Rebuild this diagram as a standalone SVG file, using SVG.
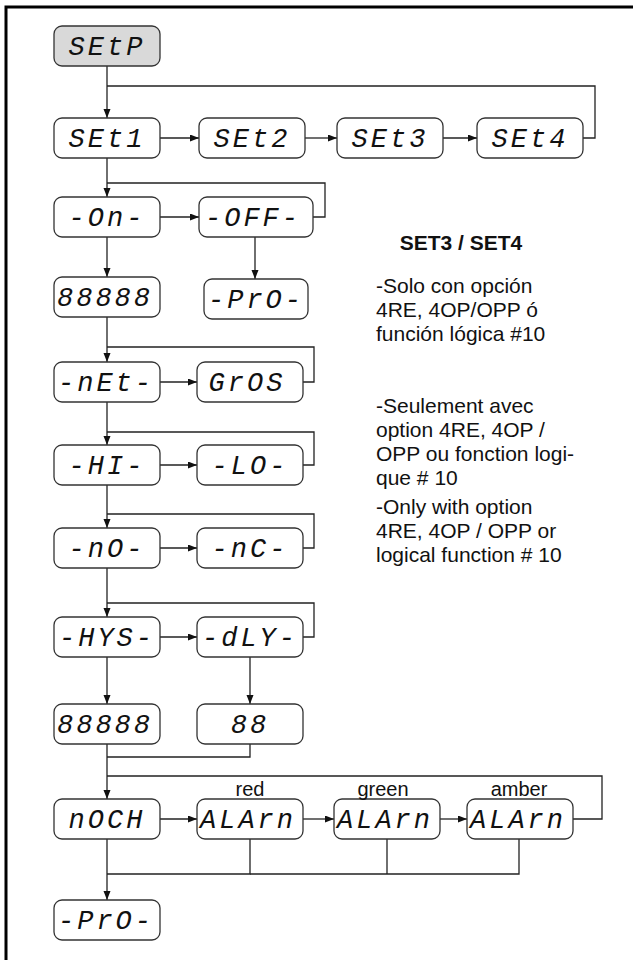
<svg xmlns="http://www.w3.org/2000/svg" width="633" height="960" viewBox="0 0 633 960">
<defs>
<marker id="ah" markerUnits="userSpaceOnUse" markerWidth="10" markerHeight="8" refX="9" refY="3.5" orient="auto">
<path d="M0,0 L9,3.5 L0,7 z" fill="#111"/>
</marker>
<style>
.box{fill:#fff;stroke:#333;stroke-width:1.3}
.gray{fill:#d9d9d9}
.seg{font-family:"Liberation Mono","DejaVu Sans Mono",monospace;font-style:italic;font-size:27px;letter-spacing:3px;fill:#111;text-anchor:middle}
.ln{fill:none;stroke:#222;stroke-width:1.3}
.ar{fill:none;stroke:#222;stroke-width:1.3;marker-end:url(#ah)}
.txt{font-family:"Liberation Sans",Arial,sans-serif;font-size:21px;fill:#111}
.lbl{font-family:"Liberation Sans",Arial,sans-serif;font-size:20px;fill:#111;text-anchor:middle}
.hd{font-family:"Liberation Sans",Arial,sans-serif;font-size:21px;font-weight:bold;fill:#111;text-anchor:middle}
</style>
</defs>
<rect width="633" height="960" fill="#fff"/>
<path d="M6,960 V7 H633" fill="none" stroke="#000" stroke-width="3"/>

<g id="connectors">
<path class="ar" d="M107,66 V118"/>
<path class="ar" d="M107,158 V197"/>
<path class="ar" d="M107,237 V277"/>
<path class="ar" d="M107,317 V362"/>
<path class="ar" d="M107,402 V445"/>
<path class="ar" d="M107,485 V528"/>
<path class="ar" d="M107,568 V617"/>
<path class="ar" d="M107,657 V704"/>
<path class="ar" d="M107,744 V799"/>
<path class="ar" d="M107,839 V900"/>
<path class="ln" d="M583,138 H595 V86 H107"/>
<path class="ln" d="M313,217 H325 V183 H107"/>
<path class="ln" d="M303,382 H314 V347 H107"/>
<path class="ln" d="M303,465 H314 V432 H107"/>
<path class="ln" d="M303,548 H314 V514 H107"/>
<path class="ln" d="M303,637 H314 V603 H107"/>
<path class="ln" d="M573,819 H602 V776 H107"/>
<path class="ln" d="M250,744 V757 H107"/>
<path class="ln" d="M250,839 V874 H107"/>
<path class="ln" d="M387,839 V874"/>
<path class="ln" d="M519,839 V874 H250"/>
<path class="ar" d="M160,138 H199"/>
<path class="ar" d="M305,138 H337"/>
<path class="ar" d="M443,138 H477"/>
<path class="ar" d="M160,217 H199"/>
<path class="ar" d="M160,382 H197"/>
<path class="ar" d="M160,465 H197"/>
<path class="ar" d="M160,548 H197"/>
<path class="ar" d="M160,637 H197"/>
<path class="ar" d="M160,819 H197"/>
<path class="ar" d="M303,819 H334"/>
<path class="ar" d="M440,819 H467"/>
<path class="ar" d="M255,237 V279"/>
<path class="ar" d="M250,657 V704"/>
</g>

<g id="n-setp"><rect class="box gray" x="54" y="26" width="106" height="40" rx="8"/><text class="seg" x="107" y="55">SEtP</text></g>
<g id="n-set1"><rect class="box" x="54" y="118" width="106" height="40" rx="8"/><text class="seg" x="107" y="147">SEt1</text></g>
<g id="n-set2"><rect class="box" x="199" y="118" width="106" height="40" rx="8"/><text class="seg" x="252" y="147">SEt2</text></g>
<g id="n-set3"><rect class="box" x="337" y="118" width="106" height="40" rx="8"/><text class="seg" x="390" y="147">SEt3</text></g>
<g id="n-set4"><rect class="box" x="477" y="118" width="106" height="40" rx="8"/><text class="seg" x="530" y="147">SEt4</text></g>

<g id="n-on"><rect class="box" x="54" y="197" width="106" height="40" rx="8"/><text class="seg" x="107" y="226">-On-</text></g>
<g id="n-off"><rect class="box" x="199" y="197" width="114" height="40" rx="8"/><text class="seg" x="253" y="226">-OFF-</text></g>
<g id="n-88888a"><rect class="box" x="54" y="277" width="106" height="40" rx="8"/><text class="seg" x="105" y="306">88888</text></g>
<g id="n-pro1"><rect class="box" x="204" y="279" width="104" height="40" rx="8"/><text class="seg" x="256" y="308">-PrO-</text></g>

<g id="n-net"><rect class="box" x="54" y="362" width="106" height="40" rx="8"/><text class="seg" x="106" y="391">-nEt-</text></g>
<g id="n-gros"><rect class="box" x="197" y="362" width="106" height="40" rx="8"/><text class="seg" x="247" y="391">GrOS</text></g>

<g id="n-hi"><rect class="box" x="54" y="445" width="106" height="40" rx="8"/><text class="seg" x="107" y="474">-HI-</text></g>
<g id="n-lo"><rect class="box" x="197" y="445" width="106" height="40" rx="8"/><text class="seg" x="250" y="474">-LO-</text></g>

<g id="n-no"><rect class="box" x="54" y="528" width="106" height="40" rx="8"/><text class="seg" x="107" y="557">-nO-</text></g>
<g id="n-nc"><rect class="box" x="197" y="528" width="106" height="40" rx="8"/><text class="seg" x="250" y="557">-nC-</text></g>

<g id="n-hys"><rect class="box" x="54" y="617" width="106" height="40" rx="8"/><text class="seg" x="107" y="646">-HYS-</text></g>
<g id="n-dly"><rect class="box" x="197" y="617" width="106" height="40" rx="8"/><text class="seg" x="250" y="646">-dLY-</text></g>

<g id="n-88888b"><rect class="box" x="54" y="704" width="106" height="40" rx="8"/><text class="seg" x="105" y="733">88888</text></g>
<g id="n-88"><rect class="box" x="197" y="704" width="106" height="40" rx="8"/><text class="seg" x="250" y="733">88</text></g>

<g id="n-noch"><rect class="box" x="54" y="799" width="106" height="40" rx="8"/><text class="seg" x="107" y="828">nOCH</text></g>
<g id="n-alarn-red"><rect class="box" x="197" y="799" width="106" height="40" rx="8"/><text class="seg" x="248" y="828">ALArn</text><text class="lbl" x="250" y="796">red</text></g>
<g id="n-alarn-green"><rect class="box" x="334" y="799" width="106" height="40" rx="8"/><text class="seg" x="385" y="828">ALArn</text><text class="lbl" x="383" y="796">green</text></g>
<g id="n-alarn-amber"><rect class="box" x="467" y="799" width="106" height="40" rx="8"/><text class="seg" x="518" y="828">ALArn</text><text class="lbl" x="519" y="796">amber</text></g>

<g id="n-pro2"><rect class="box" x="54" y="900" width="106" height="40" rx="8"/><text class="seg" x="106" y="929">-PrO-</text></g>

<g id="note">
<text class="hd" x="461" y="250">SET3 / SET4</text>
<text class="txt" x="376" y="293">-Solo con opción</text>
<text class="txt" x="376" y="317">4RE, 4OP/OPP ó</text>
<text class="txt" x="376" y="341">función lógica #10</text>
<text class="txt" x="376" y="413">-Seulement avec</text>
<text class="txt" x="376" y="437">option 4RE, 4OP /</text>
<text class="txt" x="376" y="461">OPP ou fonction logi-</text>
<text class="txt" x="376" y="485">que # 10</text>
<text class="txt" x="376" y="514">-Only with option</text>
<text class="txt" x="376" y="538">4RE, 4OP / OPP or</text>
<text class="txt" x="376" y="562">logical function # 10</text>
</g>
</svg>
